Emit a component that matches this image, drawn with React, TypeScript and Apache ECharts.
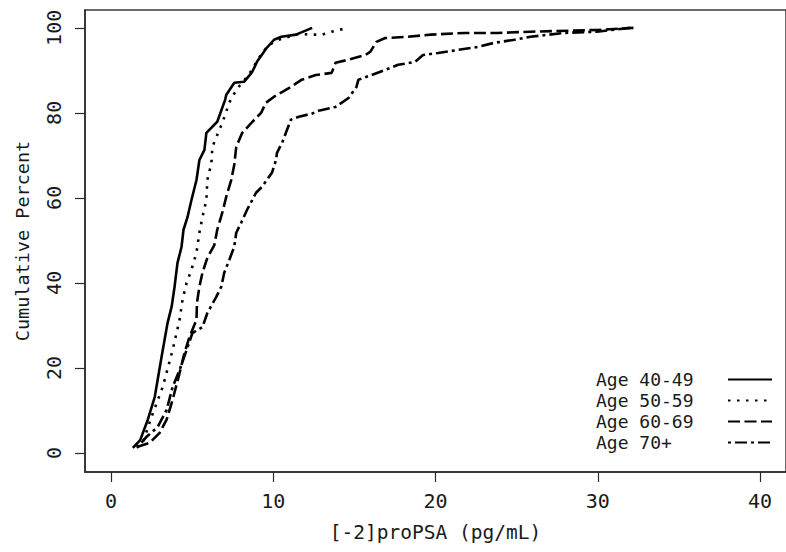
import React, { useEffect, useRef } from "react";
import * as echarts from "echarts";

const seriesNames = ["Age 40-49", "Age 50-59", "Age 60-69", "Age 70+"];

const age4049: number[][] = [
  [1.35, 1.2], [1.8, 3], [2.27, 7.8], [2.7, 13.2], [3.12, 22.6], [3.49, 30.6], [3.74, 34.4],
  [3.92, 39.1], [4.1, 44.7], [4.35, 48.5], [4.47, 52.5], [4.72, 55.5], [4.96, 59.5], [5.27, 64.2],
  [5.45, 68.9], [5.76, 71.3], [5.88, 75.3], [6.55, 77.9], [7.04, 83.1], [7.1, 84.2], [7.6, 87.1],
  [8.2, 87.3], [8.7, 89.6], [9.0, 92.0], [9.6, 95.3], [10.05, 97.2], [10.5, 97.9], [11.4, 98.4],
  [12.4, 100],
];

const age5059: number[][] = [
  [1.6, 1.4], [1.96, 2.4], [2.5, 8.5], [3.19, 15.5], [3.8, 24.2], [4.23, 31.3], [4.41, 36],
  [4.66, 40], [4.96, 43.1], [5.27, 47.1], [5.45, 51.8], [5.64, 55.5], [5.88, 59.5], [5.94, 64.2],
  [6.19, 68.2], [6.25, 72], [6.68, 76], [6.86, 77.6], [7.29, 82.4], [7.72, 85.4], [8.5, 89],
  [9.31, 94.1], [9.74, 96], [10.35, 97.2], [11.57, 98.6], [12.4, 98.4], [13.0, 98.4],
  [13.6, 99.1], [14.6, 100],
];

const age6069: number[][] = [
  [1.6, 1.4], [2.39, 2.4], [3.0, 4.7], [3.43, 7.8], [3.8, 12.5], [4.23, 18.8], [4.53, 23.5],
  [4.84, 27.3], [5.27, 31.3], [5.3, 35.3], [5.45, 39.1], [5.64, 42.4], [5.94, 45.9], [6.37, 48.9],
  [6.55, 52.5], [6.86, 56.5], [7.1, 60.2], [7.41, 64.2], [7.6, 67.8], [7.72, 72], [8.09, 75.3],
  [8.64, 77.6], [9.25, 80], [9.56, 82.4], [10.05, 83.8], [10.54, 84.9], [11.09, 86.1],
  [11.76, 87.8], [12.62, 88.9], [13.6, 89.4], [13.84, 91.8], [14.64, 92.5], [15.68, 93.6],
  [15.99, 94.4], [16.36, 96.7], [16.9, 97.6], [18.3, 97.9], [19.7, 98.4], [21.8, 98.8],
  [23.8, 98.8], [25.85, 99.1], [29.95, 99.5], [32.2, 100],
];

const age70: number[][] = [
  [1.6, 1.2], [2.2, 3.8], [2.88, 6.1], [3.43, 10.1], [3.8, 15.5], [4.23, 19.5], [4.66, 24.2],
  [5.02, 28.2], [5.64, 29.6], [5.94, 32.9], [6.49, 36.7], [6.8, 39.1], [6.98, 42.4], [7.29, 45.4],
  [7.6, 48.5], [7.72, 51.8], [8.02, 54.1], [8.39, 57.2], [8.94, 61.2], [9.31, 62.6], [9.92, 65.9],
  [10.17, 68.9], [10.23, 70.6], [10.54, 72.9], [10.78, 75.3], [11.09, 78.4], [11.58, 79.1],
  [12.37, 79.8], [12.8, 80.5], [13.84, 81.4], [14.64, 83.5], [15.13, 86.1], [15.25, 87.8],
  [16.05, 88.9], [16.9, 90.1], [17.7, 91.3], [18.74, 92], [19.23, 93.6], [20.15, 94.1],
  [21.38, 94.8], [22.6, 95.5], [23.64, 96.5], [24.87, 97.2], [25.85, 97.9], [27.93, 98.8],
  [29.95, 99.1], [31.98, 100],
];

const xTicks = [0, 10, 20, 30, 40];
const yTicks = [0, 20, 40, 60, 80, 100];

const FONT = "'DejaVu Sans Mono', 'Liberation Mono', monospace";
const TEXT = "#1a1a1a";

export default function App() {
  const ref = useRef<HTMLDivElement>(null);
  useEffect(() => {
    if (!ref.current) return;
    const chart = echarts.init(ref.current, null, { renderer: "svg" });
    const dashes: any[] = ["solid", [2.5, 6.5], [12, 4.5], [3, 4, 12, 4]];
    const datasets = [age4049, age5059, age6069, age70];
    chart.setOption({
      animation: false,
      backgroundColor: "#ffffff",
      grid: {
        left: 85,
        top: 10,
        width: 705,
        height: 462,
        show: true,
        borderColor: "#3a3a3a",
        borderWidth: 1.5,
      },
      legend: {
        orient: "vertical",
        left: 596,
        top: 369,
        padding: 0,
        itemGap: 0,
        itemWidth: 44,
        itemHeight: 12,
        align: "right",
        data: seriesNames,
        itemStyle: { color: "rgba(0,0,0,0)", borderWidth: 0, opacity: 0 },
        formatter: "{t|{name}}",
        textStyle: {
          fontFamily: FONT,
          fontSize: 18,
          color: TEXT,
          lineHeight: 21,
          rich: {
            t: {
              width: 127,
              align: "left",
              fontFamily: FONT,
              fontSize: 18,
              lineHeight: 21,
              color: TEXT,
            },
          },
        },
      },
      xAxis: {
        type: "value",
        min: -1.6,
        max: 41.6,
        name: "[-2]proPSA (pg/mL)",
        nameLocation: "middle",
        nameGap: 50,
        nameTextStyle: { fontFamily: FONT, fontSize: 19.5, color: TEXT },
        axisLine: { onZero: false, lineStyle: { color: "#2a2a2a", width: 1.5 } },
        axisTick: { show: true, length: 10, customValues: xTicks, lineStyle: { color: "#2a2a2a", width: 1.2 } },
        axisLabel: { customValues: xTicks, margin: 19, fontFamily: FONT, fontSize: 20, color: TEXT },
        splitLine: { show: false },
      },
      yAxis: {
        type: "value",
        min: -4.5,
        max: 104.2,
        name: "Cumulative Percent",
        nameLocation: "middle",
        nameGap: 53,
        nameRotate: 90,
        nameTextStyle: { fontFamily: FONT, fontSize: 18.5, color: TEXT },
        axisLine: { onZero: false, lineStyle: { color: "#2a2a2a", width: 1.5 } },
        axisTick: { show: true, length: 10, customValues: yTicks, lineStyle: { color: "#2a2a2a", width: 1.2 } },
        axisLabel: { customValues: yTicks, rotate: 90, margin: 21, fontFamily: FONT, fontSize: 20, color: TEXT },
        splitLine: { show: false },
      },
      series: datasets.map((d, i) => ({
        name: seriesNames[i],
        type: "line",
        data: d,
        symbol: "none",
        showSymbol: false,
        color: "#000000",
        lineStyle: { color: "#000000", width: 2.6, type: dashes[i] },
      })),
    });
    return () => chart.dispose();
  }, []);
  return (
    <div
      ref={ref}
      style={{ position: "absolute", left: 0, top: 0, width: 786, height: 552 }}
    />
  );
}
